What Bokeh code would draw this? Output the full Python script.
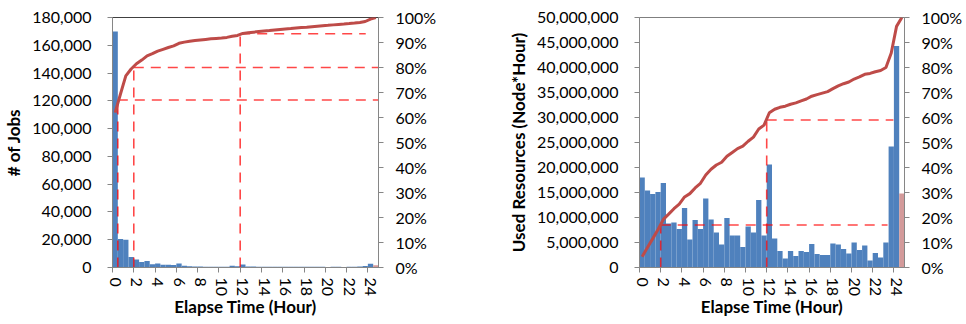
import numpy as np
from bokeh.plotting import figure
from bokeh.layouts import row
from bokeh.models import Range1d, LinearAxis, FixedTicker, NumeralTickFormatter
from bokeh.embed import file_html
from bokeh.resources import INLINE

# ---------------- data ----------------
# half-hour bins: 0, 0.5, ..., 24 and a final bin (>24h)
hours = [i * 0.5 for i in range(50)]
x_tick_labels = list(range(0, 25, 2))

jobs = [170000, 20500, 20000, 7500, 5800, 4000, 4600, 2400, 2800, 2000,
        2000, 1800, 2800, 1300, 900, 800, 700, 600, 600, 500,
        500, 600, 1300, 900, 2200, 700, 650, 600, 600, 550,
        600, 550, 550, 500, 550, 500, 500, 550, 500, 500,
        450, 500, 500, 450, 500, 550, 700, 1000, 2700, 1700]

resources_m = [18.0, 15.4, 14.7, 15.1, 16.9, 8.8, 9.0, 7.7, 11.9, 5.6,
               9.5, 7.7, 13.8, 9.6, 7.0, 4.6, 9.9, 6.4, 6.4, 4.1,
               8.2, 7.0, 13.5, 6.4, 20.6, 5.8, 3.3, 1.8, 3.3, 2.3,
               3.3, 3.1, 4.7, 2.7, 2.5, 2.5, 4.8, 4.6, 3.7, 2.8,
               5.0, 3.5, 4.4, 1.4, 2.9, 2.0, 5.0, 24.2, 44.3, 14.8]
resources = [v * 1e6 for v in resources_m]

# reference markers (bin boundary in hours, cumulative share, end of horizontal line)
jobs_mark_x = [0.25, 1.75, 11.75]
jobs_mark_pct = [0.67, 0.80, 0.935]
jobs_mark_end = [24.75, 24.75, 23.55]

res_mark_x = [1.75, 11.75]
res_mark_pct = [0.17, 0.59]
res_mark_end = [23.15, 23.7]

BLUE = "#4F81BD"
PINK = "#D39A9A"
RED_LINE = "#BE4B48"
AXIS_GRAY = "#868686"
FONT = "Lato"


def make_panel(values, y_max, y_step, ylabel, mark_x, mark_pct, mark_end,
               width, border_left, border_right, border_top, frame_h, outline):
    total = float(sum(values))
    cum = list(np.cumsum(values) / total)
    colors = [BLUE] * (len(values) - 1) + [PINK]

    p = figure(width=width, height=324, output_backend="svg", toolbar_location=None,
               x_range=Range1d(-0.25, 24.75), y_range=Range1d(0, y_max),
               min_border_left=border_left, min_border_right=border_right,
               min_border_top=border_top, min_border_bottom=324 - border_top - frame_h)
    p.extra_y_ranges = {"pct": Range1d(0, 1)}
    p.xgrid.visible = False
    p.ygrid.visible = False
    p.outline_line_color = outline
    p.background_fill_color = "white"
    p.border_fill_color = "white"

    p.vbar(x=hours, top=values, width=0.5, fill_color=colors, line_color=None)

    n = len(mark_x)
    p.segment(x0=mark_x, y0=[0] * n, x1=mark_x, y1=mark_pct, y_range_name="pct",
              line_color="#FF0000", line_alpha=0.72, line_width=1.6, line_dash="10 7")
    p.segment(x0=mark_x, y0=mark_pct, x1=mark_end, y1=mark_pct, y_range_name="pct",
              line_color="#FF0000", line_alpha=0.72, line_width=1.6, line_dash="10 7")

    p.line(hours, cum, y_range_name="pct", line_color=RED_LINE, line_width=3)

    # x axis
    xa = p.xaxis[0]
    xa.ticker = FixedTicker(ticks=x_tick_labels,
                            minor_ticks=[t - 0.25 for t in x_tick_labels])
    xa.major_tick_out = 0
    xa.major_tick_in = 0
    xa.minor_tick_out = 5
    xa.minor_tick_in = 0
    xa.minor_tick_line_color = AXIS_GRAY
    xa.major_label_orientation = "vertical"
    xa.major_label_standoff = 5
    xa.axis_label = "Elapse Time (Hour)"
    xa.axis_label_standoff = -3

    # left y axis
    ya = p.yaxis[0]
    ya.ticker = FixedTicker(ticks=list(np.arange(0, y_max + 1, y_step)))
    ya.formatter = NumeralTickFormatter(format="0,0")
    ya.major_label_standoff = 16
    ya.axis_label = ylabel
    ya.axis_label_standoff = 5

    # right percentage axis
    ra = LinearAxis(y_range_name="pct", ticker=FixedTicker(ticks=[i / 10 for i in range(11)]),
                    formatter=NumeralTickFormatter(format="0%"))
    ra.major_label_standoff = 12
    p.add_layout(ra, "right")

    for ax in [xa, ya, ra]:
        ax.axis_line_color = AXIS_GRAY
        ax.major_tick_line_color = AXIS_GRAY
        ax.major_label_text_font = FONT
        ax.major_label_text_font_size = "16px"
        ax.major_label_text_color = "black"
        ax.axis_label_text_font = FONT
        ax.axis_label_text_font_style = "bold"
        ax.axis_label_text_font_size = "17px"
        ax.axis_label_text_color = "black"
    for ax in [ya, ra]:
        ax.major_tick_out = 5
        ax.major_tick_in = 0
        ax.minor_tick_out = 0
        ax.minor_tick_in = 0
    return p


p1 = make_panel(jobs, 180000, 20000, "# of Jobs", jobs_mark_x, jobs_mark_pct, jobs_mark_end,
                width=483, border_left=109, border_right=105, border_top=17, frame_h=251,
                outline="#404040")
p2 = make_panel(resources, 50000000, 5000000, "Used Resources (Node*Hour)",
                res_mark_x, res_mark_pct, res_mark_end,
                width=483, border_left=156, border_right=62, border_top=16, frame_h=251,
                outline="#7F7F7F")

layout = row(p1, p2)
open("out.html", "w").write(file_html(layout, INLINE))
